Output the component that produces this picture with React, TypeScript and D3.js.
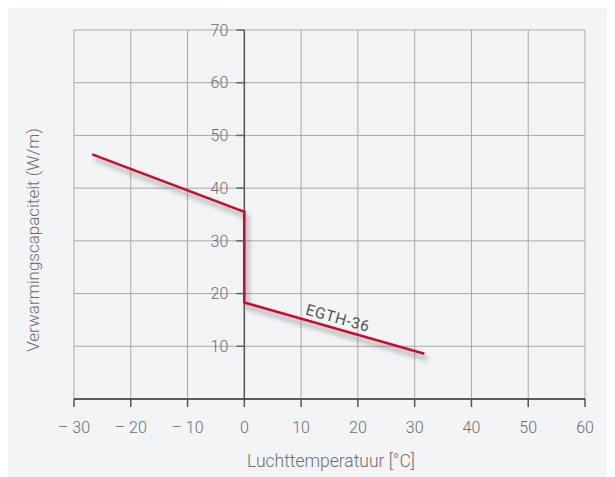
import React from "react";
import * as d3 from "d3";

const xTicks = [-30, -20, -10, 0, 10, 20, 30, 40, 50, 60];
const xTickLabels = ["– 30", "– 20", "– 10", "0", "10", "20", "30", "40", "50", "60"];
const yTicks = [10, 20, 30, 40, 50, 60, 70];
const yGrid = [0, 10, 20, 30, 40, 50, 60, 70];
const seriesName = "EGTH-36";
const seriesX = [-26.8, 0, 0, 31.7];
const seriesY = [46.4, 35.5, 18.3, 8.6];

const W = 607;
const H = 469;
const M = { left: 66, right: 577, top: 22, bottom: 391 };
const font = "Roboto, 'DejaVu Sans', sans-serif";
const txt = "#6e6e6e";

export default function App() {
  const x = d3.scaleLinear().domain([-30, 60]).range([M.left, M.right]);
  const y = d3.scaleLinear().domain([0, 70]).range([M.bottom, M.top]);
  const pts = seriesX.map((v, i) => [v, seriesY[i]] as [number, number]);
  const line = d3.line<[number, number]>().x((d) => x(d[0])).y((d) => y(d[1]));
  const a = pts[2], b = pts[3];
  const ang = (Math.atan2(y(b[1]) - y(a[1]), x(b[0]) - x(a[0])) * 180) / Math.PI;
  const lx = 16.2, ly = 14.4;
  return (
    <svg width={W} height={H} style={{ display: "block", background: "#f3f4f6" }} fontFamily={font}>
      <defs>
        <filter id="sh" x="-10%" y="-10%" width="130%" height="130%">
          <feDropShadow dx="3" dy="5" stdDeviation="2.5" floodColor="#444" floodOpacity="0.55" />
        </filter>
      </defs>
      {xTicks.map((t) => (
        <line key={"gx" + t} x1={x(t)} x2={x(t)} y1={y(70)} y2={y(0)} stroke="#a9a9a9" strokeWidth={1} />
      ))}
      {yGrid.map((t) => (
        <line key={"gy" + t} x1={x(-30)} x2={x(60)} y1={y(t)} y2={y(t)} stroke="#a9a9a9" strokeWidth={1} />
      ))}
      <line x1={x(0)} x2={x(0)} y1={y(70)} y2={y(0)} stroke="#555" strokeWidth={1.5} />
      {yTicks.map((t) => (
        <g key={"yt" + t}>
          <line x1={x(0) - 8} x2={x(0)} y1={y(t)} y2={y(t)} stroke="#666" strokeWidth={1.5} />
          <text x={x(0) - 16} y={y(t)} dy="0.36em" textAnchor="end" fontSize={16} fontWeight={300} fill={txt}>
            {t}
          </text>
        </g>
      ))}
      <line x1={x(-30)} x2={x(60)} y1={y(0)} y2={y(0)} stroke="#333" strokeWidth={1.5} />
      {xTicks.map((t, i) => (
        <g key={"xt" + t}>
          <line x1={x(t)} x2={x(t)} y1={y(0)} y2={y(0) + 8} stroke="#555" strokeWidth={1.5} />
          <text x={x(t)} y={y(0) + 34} textAnchor="middle" fontSize={16} fontWeight={300} fill={txt}>
            {xTickLabels[i]}
          </text>
        </g>
      ))}
      <path d={line(pts) || ""} fill="none" stroke="#c8102e" strokeWidth={2.6} filter="url(#sh)" strokeLinejoin="miter" />
      <text
        transform={`translate(${x(lx)},${y(ly)}) rotate(${ang})`}
        textAnchor="middle"
        fontSize={15.5}
        fill="#555"
        letterSpacing="0.6"
      >
        {seriesName}
      </text>
      <text x={323} y={459} textAnchor="middle" fontSize={17.5} fontWeight={300} fill={txt}>
        Luchttemperatuur [°C]
      </text>
      <text transform={`translate(31,${232}) rotate(-90)`} textAnchor="middle" fontSize={17} fontWeight={300} fill={txt}>
        Verwarmingscapaciteit (W/m)
      </text>
    </svg>
  );
}
